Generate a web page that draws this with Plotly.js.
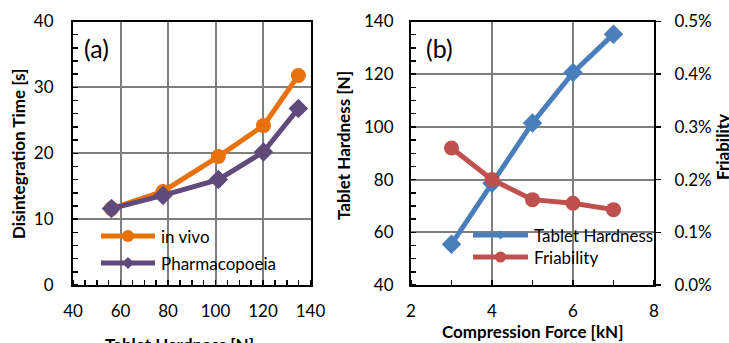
<!DOCTYPE html>
<html>
<head>
<meta charset="utf-8">
<script src="https://cdn.plot.ly/plotly-3.0.1.min.js"></script>
<style>html,body{margin:0;padding:0;background:#fff;}#chart{width:729px;height:343px;}</style>
</head>
<body>
<div id="chart"></div>
<script>
// ---- data ----
var hardness = [56.2, 77.9, 101.2, 120.2, 134.9];
var inVivo = [11.6, 14.2, 19.5, 24.2, 31.8];
var pharmacopoeia = [11.6, 13.6, 16.0, 20.2, 26.8];
var force = [3, 4, 5, 6, 7];
var tabletHardness = [55.5, 78.6, 101.5, 120.6, 135.2];
var friability = [0.0026, 0.0020, 0.00162, 0.00155, 0.00143];
var seriesNames = ["in vivo", "Pharmacopoeia", "Tablet Hardness", "Friability"];

var W = 729, H = 343;
function px(x){ return x / W; }
function py(y){ return 1 - y / H; }

var ORANGE = "#E8710A", PURPLE = "#604A7B", BLUE = "#4A7EBB", RED = "#C0504D";
var FONT = "Lato, 'Open Sans', sans-serif";

var traces = [
  {x: hardness, y: inVivo, xaxis: "x", yaxis: "y", mode: "lines+markers", name: seriesNames[0],
   line: {color: ORANGE, width: 5}, marker: {symbol: "circle", size: 15, color: ORANGE}, showlegend: false},
  {x: hardness, y: pharmacopoeia, xaxis: "x", yaxis: "y", mode: "lines+markers", name: seriesNames[1],
   line: {color: PURPLE, width: 5}, marker: {symbol: "diamond", size: 15, color: PURPLE}, showlegend: false},
  {x: force, y: tabletHardness, xaxis: "x2", yaxis: "y2", mode: "lines+markers", name: seriesNames[2],
   line: {color: BLUE, width: 5}, marker: {symbol: "diamond", size: 15, color: BLUE}, showlegend: false},
  {x: force, y: friability, xaxis: "x2", yaxis: "y3", mode: "lines+markers", name: seriesNames[3],
   line: {color: RED, width: 5}, marker: {symbol: "circle", size: 15, color: RED}, showlegend: false}
];

var plotTop = 21.5, plotBot = 285;
var yDom = [py(plotBot), py(plotTop)];
var xDom1 = [px(73), px(310.5)], xDom2 = [px(411), px(654)];
var tickFont = {family: FONT, size: 17, color: "#000"};
var gridC = "#7f7f7f";

function axisBase(standoff, minorDtick, extra){
  var a = {showline: true, linecolor: "#000", linewidth: 2, mirror: true,
    showgrid: true, gridcolor: gridC, gridwidth: 2, zeroline: false,
    ticks: "outside", ticklen: standoff, tickcolor: "rgba(0,0,0,0)", tickwidth: 1,
    minor: {ticks: "inside", dtick: minorDtick, ticklen: 5, tickcolor: "#000", tickwidth: 1.5, showgrid: false},
    tickfont: tickFont, fixedrange: true};
  for (var k in extra) a[k] = extra[k];
  return a;
}

function ann(text, x, y, size, angle, xa, ya){
  return {text: text, x: px(x), y: py(y), xref: "paper", yref: "paper", showarrow: false,
    xanchor: xa || "center", yanchor: ya || "middle", textangle: angle || 0,
    font: {family: FONT, size: size, color: "#000"}};
}

var annotations = [
  ann("(a)", 96, 48, 25),
  ann("(b)", 439, 48, 25),
  ann("<b>Disintegration Time [s]</b>", 18, 154, 17, -90),
  ann("<b>Tablet Hardness [N]</b>", 179, 332, 17, 0, "center", "top"),
  ann("<b>Tablet Hardness [N]</b>", 344, 146, 17, -90),
  ann("<b>Compression Force [kN]</b>", 532, 331, 17),
  ann("<b>Friability</b>", 722, 147, 17, -90)
];

var shapes = [];
var legendItems = [
  {name: seriesNames[0], color: ORANGE, sym: "circle", x0: 101, x1: 155, y: 236, ms: 6},
  {name: seriesNames[1], color: PURPLE, sym: "diamond", x0: 101, x1: 155, y: 263, ms: 6},
  {name: seriesNames[2], color: BLUE, sym: "diamond", x0: 473, x1: 528, y: 235, ms: 4.5},
  {name: seriesNames[3], color: RED, sym: "circle", x0: 473, x1: 528, y: 257, ms: 5.5}
];
legendItems.forEach(function(it){
  shapes.push({type: "line", xref: "paper", yref: "paper", x0: px(it.x0), x1: px(it.x1),
    y0: py(it.y), y1: py(it.y), line: {color: it.color, width: 5}});
  var cx = (it.x0 + it.x1) / 2, r = it.ms;
  if (it.sym === "circle") {
    shapes.push({type: "circle", xref: "paper", yref: "paper", x0: px(cx - r), x1: px(cx + r),
      y0: py(it.y + r), y1: py(it.y - r), fillcolor: it.color, line: {color: it.color, width: 0}});
  } else {
    var p = "M" + px(cx - r) + "," + py(it.y) + " L" + px(cx) + "," + py(it.y - r) +
            " L" + px(cx + r) + "," + py(it.y) + " L" + px(cx) + "," + py(it.y + r) + " Z";
    shapes.push({type: "path", xref: "paper", yref: "paper", path: p, fillcolor: it.color,
      line: {color: it.color, width: 0}});
  }
  annotations.push(ann(it.name, it.x1 + 4, it.y, 17, 0, "left", "middle"));
});

var layout = {
  width: W, height: H,
  margin: {l: 0, r: 0, t: 0, b: 0, pad: 0},
  paper_bgcolor: "#ffffff", plot_bgcolor: "#ffffff",
  showlegend: false,
  xaxis: axisBase(10, 5, {domain: xDom1, range: [40, 140], dtick: 20, tick0: 40, anchor: "y"}),
  yaxis: axisBase(14, 2, {domain: yDom, range: [0, 40], dtick: 10, anchor: "x"}),
  xaxis2: axisBase(10, 1, {domain: xDom2, range: [2, 8], dtick: 2, tick0: 2, anchor: "y2"}),
  yaxis2: axisBase(12, 5, {domain: yDom, range: [40, 140], dtick: 20, anchor: "x2"}),
  yaxis3: {overlaying: "y2", side: "right", anchor: "x2", range: [0, 0.005], dtick: 0.001,
    tickformat: ".1%", showgrid: false, zeroline: false, showline: true, linecolor: "#000", linewidth: 2,
    ticks: "outside", ticklen: 5, tickwidth: 1.5, tickcolor: "#000", tickfont: tickFont,
    ticklabelstandoff: 10, fixedrange: true},
  annotations: annotations,
  shapes: shapes
};

Plotly.newPlot("chart", traces, layout, {staticPlot: true, displayModeBar: false});
</script>
</body>
</html>
